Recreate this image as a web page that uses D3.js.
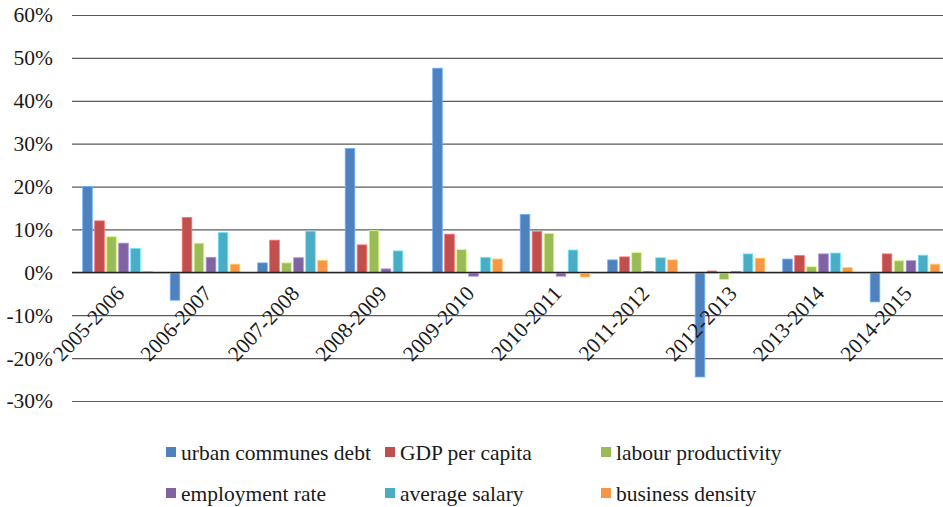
<!DOCTYPE html>
<html><head><meta charset="utf-8">
<script src="https://cdn.jsdelivr.net/npm/d3@7"></script>
<style>body{margin:0;background:#fff}svg{display:block}</style>
</head><body>
<svg id="c" width="943" height="507"></svg>
<script>
const categories = ["2005-2006","2006-2007","2007-2008","2008-2009","2009-2010","2010-2011","2011-2012","2012-2013","2013-2014","2014-2015"];
const seriesNames = ["urban communes debt","GDP per capita","labour productivity","employment rate","average salary","business density"];
const urbanDebt = [20.0,-6.5,2.2,28.9,47.6,13.5,2.9,-24.4,3.1,-6.9];
const gdpPerCapita = [12.0,12.8,7.5,6.4,8.9,9.5,3.6,0.3,3.9,4.3];
const labourProductivity = [8.3,6.8,2.2,9.7,5.3,9.1,4.6,-1.7,1.3,2.7];
const employmentRate = [6.8,3.5,3.4,0.8,-0.9,-0.9,0.2,0.2,4.3,2.7];
const averageSalary = [5.6,9.3,9.6,5.0,3.5,5.2,3.4,4.3,4.5,4.0];
const businessDensity = [0.2,1.9,2.8,0,3.1,-1.1,2.9,3.3,1.1,1.9];
const yTicks = [60,50,40,30,20,10,0,-10,-20,-30];
const colors = ["#4F81BD","#C0504D","#9BBB59","#8064A2","#4BACC6","#F79646"];

const series = [urbanDebt,gdpPerCapita,labourProductivity,employmentRate,averageSalary,businessDensity];
const svg = d3.select("#c");
const font = "Liberation Serif, serif";
const fs = 21.5;

const y = d3.scaleLinear().domain([-30,60]).range([401,15]);
const step = 87.5;
const xc = d3.scaleBand().domain(categories).range([72.4,72.4+step*10]).padding(0);
const inner = d3.scaleBand().domain(d3.range(6)).range([10.3, 10.3+69.6]).paddingInner(0.2).paddingOuter(0);

// gridlines
const yAxis = d3.axisLeft(y).tickValues(yTicks).tickSize(-(943-72)).tickFormat(d=>d+"%");
const ga = svg.append("g").attr("transform","translate(72,0)").call(yAxis);
ga.attr("font-family",font).attr("font-size",fs);
ga.select(".domain").remove();
ga.selectAll(".tick line").attr("stroke","#5a5a5a").attr("stroke-width",1.2);
ga.selectAll(".tick text").attr("fill","#1a1a1a").attr("x",-19);

// bars
categories.forEach((c,i)=>{
  series.forEach((s,j)=>{
    const v = s[i];
    if (v===0) return;
    svg.append("rect")
      .attr("x", xc(c)+inner(j))
      .attr("width", inner.bandwidth())
      .attr("y", y(Math.max(0,v)))
      .attr("height", Math.abs(y(v)-y(0)))
      .attr("fill", colors[j])
      .attr("stroke", d3.color(colors[j]).brighter(0.9))
      .attr("stroke-width",0.8);
  });
});

// zero line on top
svg.append("line").attr("x1",72).attr("x2",943).attr("y1",y(0)).attr("y2",y(0)).attr("stroke","#222").attr("stroke-width",1.2);

// category labels
const xAxis = d3.axisBottom(xc).tickSize(0).tickPadding(0);
const gx = svg.append("g").attr("transform",`translate(0,${y(0)})`).call(xAxis);
gx.attr("font-family",font).attr("font-size",fs);
gx.select(".domain").remove();
gx.selectAll(".tick text")
  .attr("fill","#1a1a1a")
  .attr("text-anchor","end").attr("dy","0.35em")
  .attr("transform","translate(4,17) rotate(-47)");

// legend
const legX = [166,385,601];
const legY = [452,493];
const lg = svg.append("g").attr("font-family",font).attr("font-size",fs);
seriesNames.forEach((n,j)=>{
  const lx = legX[j%3], ly = legY[Math.floor(j/3)];
  lg.append("rect").attr("x",lx).attr("y",ly-5).attr("width",10).attr("height",10).attr("fill",colors[j]);
  lg.append("text").attr("x",lx+15).attr("y",ly).attr("dy","0.35em").attr("fill","#1a1a1a").text(n);
});
</script>
</body></html>
